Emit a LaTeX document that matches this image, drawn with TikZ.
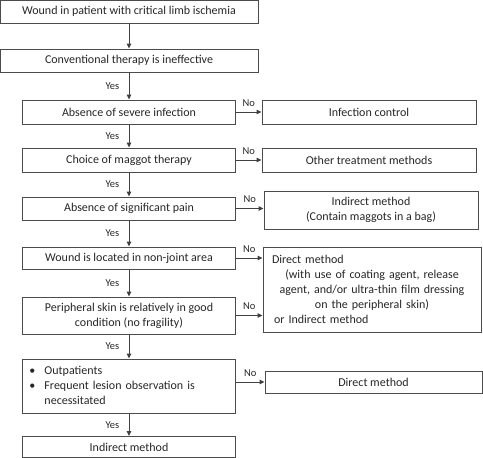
\documentclass[tikz,border=0pt]{standalone}
\usepackage{fontspec}
\setmainfont{Carlito}
\usetikzlibrary{arrows.meta}
\tikzset{
  box/.style={draw=black!70, line width=0.9pt, text=black!85, minimum height=23pt, inner sep=0pt, align=center},
  lbox/.style={box, minimum width=213pt},
  rbox/.style={box, minimum width=214pt},
  arr/.style={draw=black!75, line width=0.9pt, -{Triangle[length=5pt,width=4.5pt]}},
  yes/.style={text=black!85, font=\fontsize{10.5}{12}\selectfont, left, xshift=-6pt},
  no/.style={text=black!85, font=\fontsize{10.5}{12}\selectfont, above, yshift=2pt}
}
\newcommand{\midline}[1]{\makebox[200pt][c]{#1}}
\begin{document}
\begin{tikzpicture}[x=1pt, y=-1pt, font=\fontsize{12}{15}\selectfont]
    \useasboundingbox (0,0) rectangle (483,458);
    \node[box, minimum width=258pt] (A) at (129,11.5) {Wound in patient with critical limb ischemia};
    \node[box, minimum width=258pt] (B) at (129,60.5) {Conventional therapy is ineffective};
    \node[lbox, minimum height=24pt] (C) at (129,112) {Absence of severe infection};
    \node[rbox, minimum height=24pt] (C1) at (369,112) {Infection control};
    \node[lbox, minimum height=24pt] (D) at (129,160) {Choice of maggot therapy};
    \node[rbox, minimum height=24pt] (D1) at (369,160) {Other treatment methods};
    \node[lbox] (E) at (129,208.5) {Absence of significant pain};
    \node[rbox, minimum height=38pt] (E1) at (371,210) {Indirect method\\(Contain maggots in a bag)};
    \node[lbox, minimum height=22pt] (F) at (129,258) {Wound is located in non-joint area};
    \node[rbox, minimum width=218pt, minimum height=85pt, text width=200pt, align=left] (F1) at (372,289.5)
      {Direct method\\
       \midline{(with use of coating agent, release}\\
       \midline{agent, and/or ultra-thin film dressing}\\
       \midline{on the peripheral skin)}\\
       \hspace{2pt}or Indirect method};
    \node[lbox, minimum height=37pt] (G) at (129,315.5) {Peripheral skin is relatively in good\\condition (no fragility)};
    \node[lbox, minimum height=54pt, text width=199pt, align=left] (H) at (129,386)
      {\begin{tabular}{@{}l@{\hspace{9pt}}l@{}}
        \textbullet & Outpatients\\
        \textbullet & Frequent lesion observation is\\
                    & necessitated
       \end{tabular}};
    \node[rbox, minimum width=217pt, minimum height=22pt] (H1) at (373.5,382) {Direct method};
    \node[lbox, minimum height=21pt] (I) at (129,447) {Indirect method};
    \draw [arr] (A) -- (B);
    \draw [arr] (B) -- node[yes] {Yes} (C);
    \draw [arr] (C) -- node[yes] {Yes} (D);
    \draw [arr] (D) -- node[yes] {Yes} (E);
    \draw [arr] (E) -- node[yes] {Yes} (F);
    \draw [arr] (F) -- node[yes] {Yes} (G);
    \draw [arr] (G) -- node[yes] {Yes} (H);
    \draw [arr] (H) -- node[yes] {Yes} (I);
    \draw [arr] (C) -- node[no] {No} (C1);
    \draw [arr] (D) -- node[no] {No} (D1);
    \draw [arr] (E.east) -- node[no] {No} (E.east -| E1.west);
    \draw [arr] (F.east) -- node[no] {No} (F.east -| F1.west);
    \draw [arr] (G.east) -- node[no] {No} (G.east -| F1.west);
    \draw [arr] (H.east |- H1) -- node[no] {No} (H1);
\end{tikzpicture}
\end{document}
